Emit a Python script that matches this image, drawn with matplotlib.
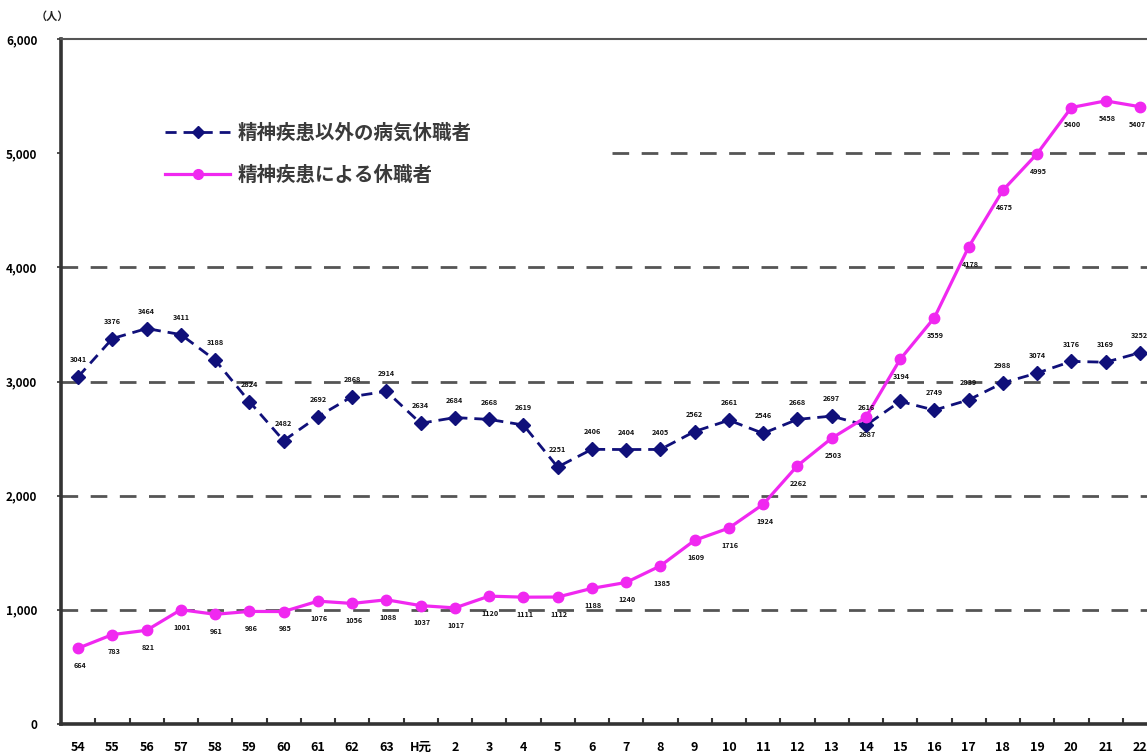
import matplotlib
matplotlib.use("Agg")
import matplotlib.pyplot as plt
from matplotlib.lines import Line2D

plt.rcParams['font.family'] = ['Noto Sans CJK JP', 'DejaVu Sans']

categories = ['54', '55', '56', '57', '58', '59', '60', '61', '62', '63', 'H元',
              '2', '3', '4', '5', '6', '7', '8', '9', '10', '11', '12', '13',
              '14', '15', '16', '17', '18', '19', '20', '21', '22']

other_illness = [3041, 3376, 3464, 3411, 3188, 2824, 2482, 2692, 2868, 2914, 2634,
                 2684, 2668, 2619, 2251, 2406, 2404, 2405, 2562, 2661, 2546, 2668,
                 2697, 2616, 2826, 2749, 2839, 2988, 3074, 3176, 3169, 3252]

mental_illness = [664, 783, 821, 1001, 961, 986, 985, 1076, 1056, 1088, 1037,
                  1017, 1120, 1111, 1112, 1188, 1240, 1385, 1609, 1716, 1924, 2262,
                  2503, 2687, 3194, 3559, 4178, 4675, 4995, 5400, 5458, 5407]

series_names = ['精神疾患以外の病気休職者', '精神疾患による休職者']
y_ticks = [0, 1000, 2000, 3000, 4000, 5000, 6000]

W, H = 1147, 754
fig = plt.figure(figsize=(W / 100, H / 100), dpi=100)
fig.patch.set_facecolor('white')

left_px, right_px, top_px, bottom_px = 61, 1157, 39, 724
ax = fig.add_axes([left_px / W, (H - bottom_px) / H,
                   (right_px - left_px) / W, (bottom_px - top_px) / H])

x = list(range(len(categories)))
blue = '#10107a'
pink = '#f028f0'

# grid lines
grid_kw = dict(color='#555555', linewidth=2.0, linestyle=(0, (6, 4.5)), zorder=1)
for yv in y_ticks[1:-1]:
    if yv == 5000:
        ax.hlines(yv, 15.6, len(categories) - 0.5, **grid_kw)
    else:
        ax.hlines(yv, -0.5, len(categories) - 0.5, **grid_kw)

ax.plot(x, other_illness, color=blue, linestyle=(0, (4, 2.5)), linewidth=2.0,
        marker='D', markersize=7, markerfacecolor=blue, markeredgecolor=blue, zorder=3)
ax.plot(x, mental_illness, color=pink, linestyle='-', linewidth=2.3,
        marker='o', markersize=7.5, markerfacecolor=pink, markeredgecolor=pink, zorder=4)

lab_kw = dict(fontsize=5.2, fontweight='bold', color='#111111',
              textcoords='offset points', zorder=5)
for i, v in enumerate(other_illness):
    if categories[i] == '15':
        continue
    ax.annotate(str(v), (i, v), xytext=(0, 10), va='bottom', ha='center', **lab_kw)
for i, v in enumerate(mental_illness):
    ha = 'left' if i == len(mental_illness) - 1 else 'center'
    dx = -8 if i == len(mental_illness) - 1 else 1
    ax.annotate(str(v), (i, v), xytext=(dx, -10), va='top', ha=ha, **lab_kw)

ax.set_xlim(-0.5, len(categories) - 0.5)
ax.set_ylim(0, 6000)
ax.set_yticks(y_ticks)
ax.set_yticklabels([f'{v:,}' for v in y_ticks], fontsize=8.5, fontweight='bold')
ax.set_xticks(x)
ax.set_xticklabels(categories, fontsize=9, fontweight='bold')
ax.set_xticks([i + 0.5 for i in x[:-1]], minor=True)
ax.tick_params(axis='x', which='major', length=0, pad=12)
ax.tick_params(axis='x', which='minor', direction='in', length=4, width=1.5, color='#333333')
ax.tick_params(axis='y', length=3, width=1.2, color='#333333', pad=14)

for s in ['left', 'bottom']:
    ax.spines[s].set_linewidth(2.6)
    ax.spines[s].set_color('#333333')
ax.spines['top'].set_linewidth(1.5)
ax.spines['top'].set_color('#555555')
ax.spines['right'].set_visible(False)

handles = [
    Line2D([], [], color=blue, linestyle=(0, (4, 2.5)), linewidth=2.0,
           marker='D', markersize=6, markerfacecolor=blue),
    Line2D([], [], color=pink, linestyle='-', linewidth=2.3,
           marker='o', markersize=7, markerfacecolor=pink),
]
leg = fig.legend(handles, series_names, loc='upper left',
                 bbox_to_anchor=(165 / W, 1 - 123 / H),
                 frameon=False, prop={'size': 14, 'weight': 'bold'},
                 handlelength=3.35, handletextpad=0.36, labelspacing=1.2,
                 borderaxespad=0, borderpad=0)
for t in leg.get_texts():
    t.set_color('#3a3a3a')

fig.text(52 / W, 1 - 16 / H, '（人）', fontsize=8, fontweight='bold',
         ha='center', va='center', color='#222222')

fig.savefig('out.png', dpi=100, facecolor='white')
